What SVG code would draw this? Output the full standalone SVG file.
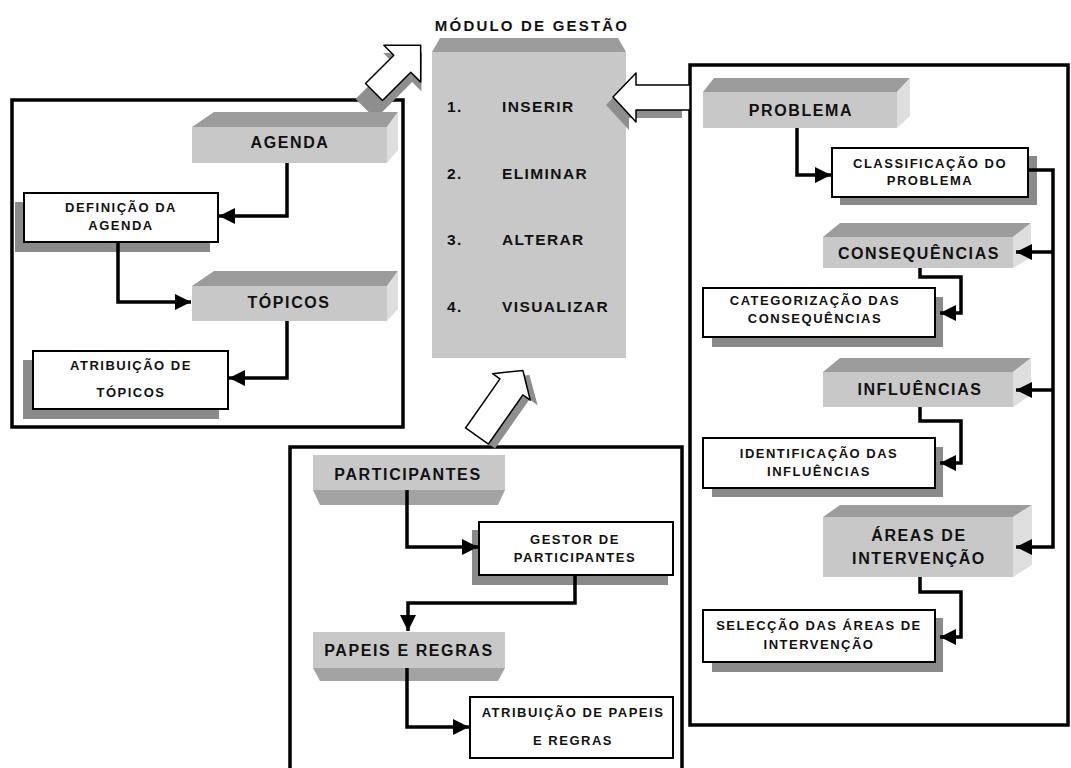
<svg xmlns="http://www.w3.org/2000/svg" width="1071" height="768" viewBox="0 0 1071 768">
<defs>
<style>
text{font-family:"Liberation Sans",Arial,sans-serif;font-weight:bold;fill:#111;text-anchor:middle}
.pt{font-size:16px;letter-spacing:1.6px}
.bt{font-size:13px;letter-spacing:1.5px}
.mt{font-size:15.5px;letter-spacing:1.4px;text-anchor:start}
.frame{fill:none;stroke:#000;stroke-width:3.5}
.front{fill:#c8c8c8}
.top{fill:#9c9c9c}
.side{fill:#dedede}
.bot{fill:#a3a3a3}
.box{fill:#fff;stroke:#000;stroke-width:2}
.shadow{fill:#8a8a8a}
.conn{fill:none;stroke:#000;stroke-width:3.5;marker-end:url(#ah)}
.big{fill:#fff;stroke:#000;stroke-width:1.5;stroke-linejoin:round}
.bigsh{fill:#8e8e8e}
</style>
<marker id="ah" markerUnits="userSpaceOnUse" markerWidth="18" markerHeight="18" refX="16" refY="8" orient="auto">
<path d="M0,0 L16,8 L0,16 z" fill="#000"/>
</marker>
</defs>
<rect width="1071" height="768" fill="#fff"/>

<!-- frames -->
<g id="frames">
<rect class="frame" x="12" y="100" width="391" height="327"/>
<rect class="frame" x="690" y="65" width="378" height="660"/>
<rect class="frame" x="290" y="447" width="392" height="340"/>
</g>

<!-- central module -->
<g id="modulo">
<text x="532" y="31" style="font-size:15px;letter-spacing:2.2px">MÓDULO DE GESTÃO</text>
<polygon class="top" points="432,52 440,38 618,38 626,52"/>
<rect class="front" x="432" y="52" width="194" height="306"/>
<text class="mt" x="447" y="112">1.</text><text class="mt" x="502" y="112">INSERIR</text>
<text class="mt" x="447" y="179">2.</text><text class="mt" x="502" y="179">ELIMINAR</text>
<text class="mt" x="447" y="245">3.</text><text class="mt" x="502" y="245">ALTERAR</text>
<text class="mt" x="447" y="312">4.</text><text class="mt" x="502" y="312">VISUALIZAR</text>
</g>

<!-- big hollow arrows -->
<g id="arrow-agenda">
<g transform="translate(374,92) rotate(-45)">
<polygon class="bigsh" points="-12,-14 40,-14 40,-27 68,0 40,27 40,14 -12,14" transform="translate(-6,6)"/>
<polygon class="big" points="0,-12 40,-12 40,-26 66,0 40,26 40,12 0,12"/>
</g>
</g>
<g id="arrow-problema">
<polygon class="bigsh" points="682,93 629,93 629,81 606,105 629,130 629,118 682,118"/>
<polygon class="big" points="690,85 636,85 636,73 613,97 636,122 636,110 690,110"/>
</g>
<g id="arrow-participantes">
<g transform="translate(477,436) rotate(-55)">
<polygon class="bigsh" points="0,-12 60,-12 60,-24 80,0 60,24 60,14 0,14" transform="translate(0,8)"/>
<polygon class="big" points="0,-14 60,-14 60,-23 80,0 60,23 60,14 0,14"/>
</g>
</g>

<!-- left group -->
<g id="agenda">
<polygon class="top" points="192,127 214,112 398,112 387,127"/>
<polygon class="side" points="387,127 398,112 398,150 387,163"/>
<rect class="front" x="192" y="127" width="195" height="36"/>
<text class="pt" x="290" y="148">AGENDA</text>
</g>
<g id="definicao">
<rect class="shadow" x="15" y="202" width="195" height="50"/>
<rect class="box" x="24" y="193" width="194" height="49"/>
<text class="bt" x="121" y="212">DEFINIÇÃO  DA</text>
<text class="bt" x="121" y="230">AGENDA</text>
</g>
<g id="topicos">
<polygon class="top" points="192,286 214,271 398,271 387,286"/>
<polygon class="side" points="387,286 398,271 398,309 387,321"/>
<rect class="front" x="192" y="286" width="195" height="35"/>
<text class="pt" x="289" y="308">TÓPICOS</text>
</g>
<g id="atribuicao-topicos">
<rect class="shadow" x="23" y="360" width="196" height="59"/>
<rect class="box" x="33" y="351" width="195" height="58"/>
<text class="bt" x="131" y="370">ATRIBUIÇÃO DE</text>
<text class="bt" x="131" y="397">TÓPICOS</text>
</g>

<!-- right group -->
<g id="problema">
<polygon class="top" points="703,92 714,78 910,78 897,92"/>
<polygon class="side" points="897,92 910,78 910,116 897,128"/>
<rect class="front" x="703" y="92" width="194" height="36"/>
<text class="pt" x="801" y="116">PROBLEMA</text>
</g>
<g id="classificacao">
<rect class="shadow" x="840" y="156" width="197" height="49"/>
<rect class="box" x="832" y="148" width="196" height="49"/>
<text class="bt" x="930" y="168">CLASSIFICAÇÃO DO</text>
<text class="bt" x="930" y="185">PROBLEMA</text>
</g>
<g id="consequencias">
<polygon class="top" points="823,237 840,223 1031,223 1013,237"/>
<polygon class="side" points="1013,237 1031,223 1031,257 1013,268"/>
<rect class="front" x="823" y="237" width="190" height="31"/>
<text class="pt" x="919" y="259">CONSEQUÊNCIAS</text>
</g>
<g id="categorizacao">
<rect class="shadow" x="712" y="297" width="231" height="50"/>
<rect class="box" x="703" y="288" width="232" height="49"/>
<text class="bt" x="815" y="305">CATEGORIZAÇÃO DAS</text>
<text class="bt" x="815" y="323">CONSEQUÊNCIAS</text>
</g>
<g id="influencias">
<polygon class="top" points="823,372 840,358 1031,358 1013,372"/>
<polygon class="side" points="1013,372 1031,358 1031,395 1013,407"/>
<rect class="front" x="823" y="372" width="190" height="35"/>
<text class="pt" x="920" y="395">INFLUÊNCIAS</text>
</g>
<g id="identificacao">
<rect class="shadow" x="712" y="447" width="231" height="50"/>
<rect class="box" x="703" y="438" width="232" height="50"/>
<text class="bt" x="819" y="458">IDENTIFICAÇÃO DAS</text>
<text class="bt" x="819" y="476">INFLUÊNCIAS</text>
</g>
<g id="areas">
<polygon class="top" points="823,517 840,505 1032,505 1013,517"/>
<polygon class="side" points="1013,517 1032,505 1032,565 1013,577"/>
<rect class="front" x="823" y="517" width="190" height="60"/>
<text class="pt" x="919" y="541">ÁREAS DE</text>
<text class="pt" x="919" y="564">INTERVENÇÃO</text>
</g>
<g id="seleccao">
<rect class="shadow" x="712" y="618" width="231" height="54"/>
<rect class="box" x="703" y="610" width="232" height="52"/>
<text class="bt" x="819" y="630">SELECÇÃO DAS ÁREAS DE</text>
<text class="bt" x="819" y="649">INTERVENÇÃO</text>
</g>

<!-- bottom group -->
<g id="participantes">
<polygon class="bot" points="313,490 505,490 498,505 320,505"/>
<rect class="front" x="313" y="455" width="192" height="35"/>
<text class="pt" x="408" y="480">PARTICIPANTES</text>
</g>
<g id="gestor">
<rect class="shadow" x="472" y="530" width="196" height="55"/>
<rect class="box" x="479" y="522" width="194" height="53"/>
<text class="bt" x="575" y="544">GESTOR DE</text>
<text class="bt" x="575" y="562">PARTICIPANTES</text>
</g>
<g id="papeis">
<polygon class="bot" points="313,668 505,668 498,681 320,681"/>
<rect class="front" x="313" y="632" width="192" height="36"/>
<text class="pt" x="409" y="656">PAPEIS E REGRAS</text>
</g>
<g id="atribuicao-papeis">
<rect class="box" x="470" y="697" width="203" height="61"/>
<text class="bt" x="573" y="717">ATRIBUIÇÃO DE PAPEIS</text>
<text class="bt" x="573" y="745">E REGRAS</text>
</g>

<!-- connectors -->
<g id="connectors">
<path class="conn" d="M287,163 V216 H219"/>
<path class="conn" d="M118,242 V302 H191"/>
<path class="conn" d="M287,321 V378 H229"/>
<path class="conn" d="M797,128 V175 H831"/>
<path class="conn" d="M1028,170 H1053 V547 H1016"/>
<path class="conn" d="M1053,252 H1016"/>
<path class="conn" d="M1053,390 H1016"/>
<path class="conn" d="M920,268 V277 H961 V313 H940"/>
<path class="conn" d="M920,407 V421 H961 V463 H940"/>
<path class="conn" d="M920,577 V592 H961 V637 H940"/>
<path class="conn" d="M407,490 V547 H478"/>
<path class="conn" d="M575,575 V603 H408 V631"/>
<path class="conn" d="M407,668 V727 H469"/>
</g>
</svg>
